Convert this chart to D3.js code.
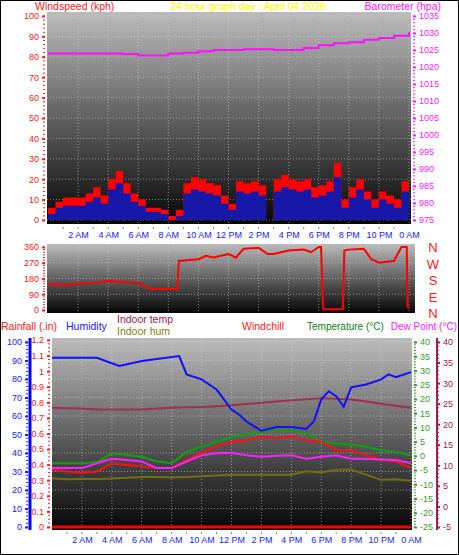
<!DOCTYPE html>
<html lang="en">
<head>
<meta charset="UTF-8">
<title>24 hour graph</title>
<script src="https://d3js.org/d3.v7.min.js"></script>
<style>
  body { margin: 0; background: #fff; }
  text { font-family: "Liberation Sans", Arial, sans-serif; }
</style>
</head>
<body>
<svg id="chart" width="459" height="555"></svg>
<script>
// ---- data ----
const halfHours = d3.range(0, 24.5, 0.5);
const windGust = [6,9,11,11,11,13,16,12,20,24,18,13,10,6,6,5,2,5,18,21,20,18,17,12,8,19,18,19,17,0,20,22,20,19,20,16,17,19,28,10,16,20,14,10,14,12,10,19,14];
const windAvg  = [3,6,7,7,7,9,11,8,15,18,13,9,7,4,4,3,0,2,13,15,14,13,12,8,5,14,13,14,12,0,14,16,15,14,15,11,12,14,21,6,11,15,10,6,10,8,6,14,10];

const hours = d3.range(0, 25);
const barometer = [1024,1024,1024,1024,1024,1023.8,1023.4,1023.4,1024,1024.2,1024.6,1025,1025,1025.2,1025.2,1025,1025,1025.6,1026.4,1027,1027.3,1028,1028.5,1029.2,1030.2];

const dirHours  = [0,1,2,3,4,5,6,6.5,7,8.6,8.7,10,10.5,11,12,12.5,13,14,14.6,15,16,17,17.5,18,18.15,18.3,19.6,19.7,20,21,21.5,22,23,23.5,23.85,23.9,24];
const windDir   = [150,145,150,155,165,160,155,130,120,120,280,290,310,300,320,300,350,355,320,320,340,345,330,360,360,5,5,340,345,350,290,270,280,360,360,20,10];

const humHours  = [0,3,4.5,6,8.5,9,10,11,12,12.5,13,14,15,16,17,17.5,18,18.5,19,19.5,20,21,22,22.5,23,24];
const humidity  = [91.5,91.5,87,89.7,92.4,82.5,79.8,74.3,63.5,60.8,57,52,54,54,53,57,69,73.4,70.7,65,75.5,77,79.8,82.5,81,83.7];

const indoorTemp = [24,23.9,23.8,23.6,23.6,23.6,23.6,23.8,24,24.1,24.2,24.4,24.6,24.9,25.2,25.5,25.8,26.1,26.3,26.2,26,25.5,25,24.5,24];
const indoorHum  = [26.4,25.8,26,26,26.2,26.6,27,27,26.8,27,27.4,27.8,28.3,28.3,28.3,28.3,28.3,30.1,29.5,31,31,28.3,25.5,25.8,25];
const temperature = [-2.6,-2.6,-2.6,-2.2,0.9,0.3,-0.3,-2,-2.6,1.4,3.2,4.9,6.7,7.6,8.5,8.8,9,7.9,4.9,4.3,4.1,3.2,2,1.4,0.1];
const windchill   = [-4.9,-5.5,-6,-5.5,-2.6,-3.2,-3.7,-4.3,-4.3,-1.4,0.9,3.2,4.9,5.5,6.7,6.1,6.9,5.5,4.9,2,2,0.2,-1.3,-2,-4.3];
const dewPoint    = [-4.3,-4.3,-4.3,-2.6,-1,-1.5,-2,-4.3,-4.3,-2,0.2,0.9,1.1,0.2,-0.3,0,0.2,-1,-0.3,0.2,-1,-1,-1.3,-1.5,-2.6];
const rainfall    = hours.map(() => 0);

const timeTicks = [2,4,6,8,10,12,14,16,18,20,22,24];
const timeLabels = ["2 AM","4 AM","6 AM","8 AM","10 AM","12 PM","2 PM","4 PM","6 PM","8 PM","10 PM","0 AM"];
const compass = ["N","W","S","E","N"];

// ---- drawing ----
const svg = d3.select("#chart");
svg.append("rect").attr("x",0.5).attr("y",0.5).attr("width",458).attr("height",554)
  .attr("fill","#fff").attr("stroke","#000");

const defs = svg.append("defs");
const grad = defs.append("linearGradient").attr("id","bg").attr("x1",0).attr("y1",0).attr("x2",0).attr("y2",1);
grad.append("stop").attr("offset","0%").attr("stop-color","#bcbcbc");
grad.append("stop").attr("offset","100%").attr("stop-color","#050505");

function panel(x0, x1, y0, y1) {
  svg.append("rect").attr("x",x0).attr("y",y0).attr("width",x1-x0).attr("height",y1-y0)
    .attr("fill","url(#bg)");
}
function vAxis(scale, x, ticks, color, side, minor, fmt) {
  const ax = (side === "left" ? d3.axisLeft(scale) : d3.axisRight(scale))
    .tickValues(ticks).tickSize(3).tickPadding(3).tickFormat(fmt || (d => d));
  const g = svg.append("g").attr("transform",`translate(${x},0)`).call(ax);
  g.select(".domain").remove();
  g.selectAll("line").attr("stroke",color).attr("stroke-width",2);
  g.selectAll("text").attr("fill",color).style("font-size","9px");
  const dom = scale.domain();
  const mg = svg.append("g");
  d3.range(dom[0], dom[1] + 1e-9, minor).forEach(v => {
    mg.append("line").attr("x1", side==="left"? x-2 : x).attr("x2", side==="left"? x : x+2)
      .attr("y1", scale(v)).attr("y2", scale(v)).attr("stroke", color).attr("stroke-width",1);
  });
}
function timeAxis(x, y) {
  const g = svg.append("g").attr("transform",`translate(0,${y})`)
    .call(d3.axisBottom(x).tickValues(timeTicks).tickSize(0).tickPadding(6)
      .tickFormat((d,i) => timeLabels[i]));
  g.select(".domain").remove();
  g.selectAll("text").attr("fill","#2020ff").style("font-size","9px");
  svg.append("g").selectAll("line").data(d3.range(1,24,1)).join("line")
    .attr("x1",d=>x(d)).attr("x2",d=>x(d)).attr("y1",y+1).attr("y2",y+3)
    .attr("stroke","#888");
}
function grid(x, yVals, ys, y0, y1, x0, x1) {
  const g = svg.append("g").attr("stroke","#d8d8d8").attr("stroke-opacity",0.55)
    .attr("stroke-dasharray","1,2");
  timeTicks.forEach(t => g.append("line").attr("x1",x(t)).attr("x2",x(t)).attr("y1",y0).attr("y2",y1));
  yVals.forEach(v => g.append("line").attr("x1",x0).attr("x2",x1).attr("y1",ys(v)).attr("y2",ys(v)));
}
function label(txt, x, y, color, anchor, size) {
  svg.append("text").attr("x",x).attr("y",y).attr("fill",color)
    .attr("text-anchor",anchor||"start").style("font-size",(size||11)+"px").text(txt);
}

// Panel 1: wind + barometer
const x1 = d3.scaleLinear().domain([0,24]).range([48,409]);
const yWind = d3.scaleLinear().domain([0,100]).range([220,16]);
const yBaro = d3.scaleLinear().domain([975,1035]).range([220,16]);
panel(47,411,12,224);
grid(x1, d3.range(0,101,10), yWind, 12, 224, 47, 411);
vAxis(yWind, 45, d3.range(0,101,10), "#ff2020", "left", 2);
vAxis(yBaro, 413, d3.range(975,1036,5), "#ff20ff", "right", 1);
svg.append("path").datum(halfHours)
  .attr("d", d3.area().curve(d3.curveStepAfter).x(d=>x1(d)).y0(yWind(0)).y1((d,i)=>yWind(windGust[i])))
  .attr("fill","#ff0000");
svg.append("path").datum(halfHours)
  .attr("d", d3.area().curve(d3.curveStepAfter).x(d=>x1(d)).y0(yWind(0)).y1((d,i)=>yWind(windAvg[i])))
  .attr("fill","#1818a8");
svg.append("path").datum(hours)
  .attr("d", d3.line().curve(d3.curveStepAfter).x(d=>x1(d)).y((d,i)=>yBaro(barometer[i])))
  .attr("fill","none").attr("stroke","#ff10ff").attr("stroke-width",2);
timeAxis(x1, 226);
label("Windspeed (kph)", 35, 10, "#ff2020", "start", 10.5);
label("24 hour graph day : April 04 2026", 248, 10, "#ffff00", "middle", 10.5);
label("Barometer (hpa)", 441, 10, "#ff20ff", "end", 10.5);

// Panel 2: wind direction
const yDir = d3.scaleLinear().domain([0,360]).range([310,247]);
panel(47,415,244,313);
grid(x1, [90,180,270], yDir, 244, 313, 47, 415);
vAxis(yDir, 45, [0,90,180,270,360], "#ff2020", "left", 15);
svg.append("path").datum(dirHours)
  .attr("d", d3.line().x(d=>x1(d)).y((d,i)=>yDir(windDir[i])))
  .attr("fill","none").attr("stroke","#ff0000").attr("stroke-width",2);
const yCompass = d3.scaleLinear().domain([0,4]).range([252,318]);
compass.forEach((c,i) => label(c, 433, yCompass(i), "#ff2020", "middle", 13));

// Panel 3: temperatures, humidity, rain
const x3 = d3.scaleLinear().domain([0,24]).range([52,411]);
const yHum = d3.scaleLinear().domain([0,100]).range([527,342]);
const yRain = d3.scaleLinear().domain([0,1.2]).range([527,340]);
const yTemp = d3.scaleLinear().domain([-25,40]).range([527,342]);
const yIn = d3.scaleLinear().domain([-5,40]).range([527,342]);
panel(52,412,338,530);
grid(x3, d3.range(0,101,10), yHum, 338, 530, 52, 412);
vAxis(yHum, 28, d3.range(0,101,10), "#2020ff", "left", 2);
svg.append("line").attr("x1",30).attr("x2",30).attr("y1",338).attr("y2",530).attr("stroke","#0000ff").attr("stroke-width",3);
vAxis(yRain, 50, d3.range(0,1.21,0.1), "#ff2020", "left", 0.025, d => +d.toFixed(1));
vAxis(yTemp, 414, d3.range(-25,41,5), "#3a9a3a", "right", 1);
vAxis(yIn, 437, d3.range(-5,41,5), "#a02050", "right", 1);
svg.append("line").attr("x1",437).attr("x2",437).attr("y1",338).attr("y2",530).attr("stroke","#a02050").attr("stroke-width",2);

function series(xs, vals, y, color, w) {
  svg.append("path").datum(xs)
    .attr("d", d3.line().x(d=>x3(d)).y((d,i)=>y(vals[i])))
    .attr("fill","none").attr("stroke",color).attr("stroke-width",w||2);
}
series(hours, indoorHum, yHum, "#707010");
series(hours, indoorTemp, yIn, "#a03050");
series(hours, temperature, yTemp, "#10a010");
series(hours, windchill, yTemp, "#ff1010");
series(hours, dewPoint, yTemp, "#ff20ff");
series(humHours, humidity, yHum, "#1010ff");
series(hours, rainfall, yRain, "#ff0000", 3);
timeAxis(x3, 531);

label("Rainfall (.in)", 1, 330, "#ff2020", "start", 10.5);
label("Humidity", 66, 330, "#2020ff", "start", 10.5);
label("Indoor temp", 117, 323, "#a02050", "start", 10.5);
label("Indoor hum", 117, 335, "#808010", "start", 10.5);
label("Windchill", 242, 330, "#ff2020", "start", 10.5);
label("Temperature (°C)", 307, 330, "#108010", "start", 10);
label("Dew Point (°C)", 457, 330, "#ff20ff", "end", 10);
</script>
</body>
</html>
